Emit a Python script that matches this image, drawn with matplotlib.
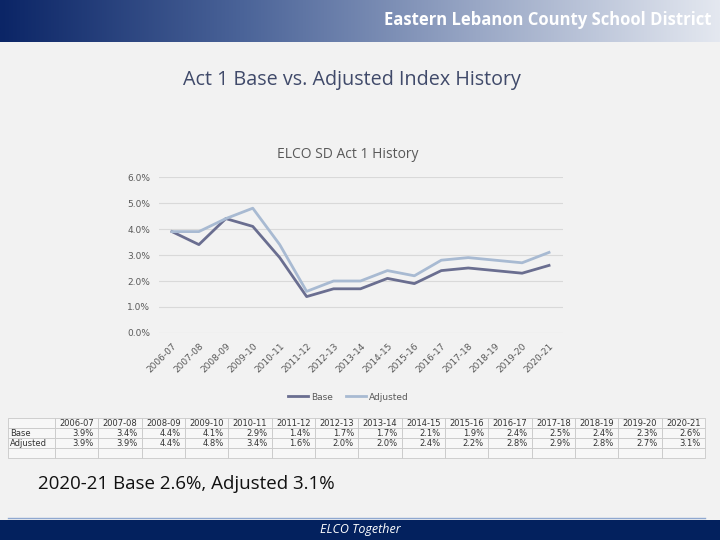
import matplotlib.pyplot as plt
import numpy as np
from matplotlib.colors import LinearSegmentedColormap

# Data
years = ['2006-07', '2007-08', '2008-09', '2009-10', '2010-11', '2011-12', '2012-13',
         '2013-14', '2014-15', '2015-16', '2016-17', '2017-18', '2018-19', '2019-20', '2020-21']
base = [3.9, 3.4, 4.4, 4.1, 2.9, 1.4, 1.7, 1.7, 2.1, 1.9, 2.4, 2.5, 2.4, 2.3, 2.6]
adjusted = [3.9, 3.9, 4.4, 4.8, 3.4, 1.6, 2.0, 2.0, 2.4, 2.2, 2.8, 2.9, 2.8, 2.7, 3.1]

W, H = 720, 540
bg = '#f2f2f2'
fig = plt.figure(figsize=(7.2, 5.4), dpi=100)
fig.patch.set_facecolor(bg)

def fx(px):
    return px / W

def fy(py):
    return 1 - py / H

# Header gradient bar
hax = fig.add_axes([0, fy(42), 1, 42 / H])
cmap = LinearSegmentedColormap.from_list('hdr', ['#0b2566', '#4a6398', '#9aa8c6', '#e4e8f0'])
hax.imshow(np.linspace(0, 1, 256)[None, :], aspect='auto', cmap=cmap, extent=[0, 1, 0, 1])
hax.axis('off')
fig.text(fx(712), fy(20), 'Eastern Lebanon County School District', ha='right', va='center',
         color='white', fontsize=12, fontweight='bold', family='Open Sans')

# Slide title
fig.text(fx(352), fy(80), 'Act 1 Base vs. Adjusted Index History', ha='center', va='center',
         color='#404a6a', fontsize=14.2, family='Open Sans')

# Chart
ax = fig.add_axes([fx(158.5), fy(333), fx(404), 156 / H])
ax.set_facecolor(bg)
x = np.arange(len(years))
l1, = ax.plot(x, base, color='#6a6e90', linewidth=2, label='Base')
l2, = ax.plot(x, adjusted, color='#a8bad2', linewidth=2, label='Adjusted')
ax.set_xlim(-0.5, len(years) - 0.5)
ax.set_ylim(0, 6)
ax.set_yticks(np.arange(0, 7, 1))
ax.set_yticklabels([f'{v:.1f}%' for v in range(7)])
ax.set_xticks(x)
ax.set_xticklabels(years, rotation=45, ha='right', rotation_mode='anchor')
ax.grid(axis='y', color='#d9d9d9', linewidth=0.8)
ax.set_axisbelow(True)
for s in ax.spines.values():
    s.set_visible(False)
ax.tick_params(length=0, labelsize=6.5, colors='#595959', pad=6)
fig.text(fx(348), fy(155), 'ELCO SD Act 1 History', ha='center', va='center',
         fontsize=10, color='#595959', family='Open Sans')
ax.legend(handles=[l1, l2], loc='upper center', bbox_to_anchor=(0.47, -0.33), ncol=2,
          frameon=False, fontsize=6.5, handlelength=2.2, columnspacing=1.5, handletextpad=0.3,
          labelcolor='#595959')

# Table
tax = fig.add_axes([fx(8), fy(458), fx(697), 40 / H])
tax.axis('off')
cell_text = [['Base'] + [f'{v:.1f}%' for v in base],
             ['Adjusted'] + [f'{v:.1f}%' for v in adjusted],
             [''] * (len(years) + 1)]
label_w = 47 / 697
data_w = (1 - label_w) / len(years)
tbl = tax.table(cellText=cell_text, colLabels=[''] + years, cellLoc='right',
                colWidths=[label_w] + [data_w] * len(years), bbox=[0, 0, 1, 1])
tbl.auto_set_font_size(False)
tbl.set_fontsize(6)
for (r, c), cell in tbl.get_celld().items():
    cell.set_edgecolor('#c8c8c8')
    cell.set_linewidth(0.6)
    cell.set_facecolor('#f7f7f7')
    cell.get_text().set_color('#333333')
    if r == 0:
        cell.get_text().set_ha('center')
    if c == 0:
        cell.get_text().set_ha('left')
        cell.PAD = 0.05

# Summary text
fig.text(fx(38), fy(484), '2020-21 Base 2.6%, Adjusted 3.1%', ha='left', va='center',
         color='#111111', fontsize=13.5, family='Open Sans')

# Footer
fig.add_artist(plt.Line2D([fx(8), fx(705)], [fy(518), fy(518)], color='#8fa8d0', linewidth=1))
fax = fig.add_axes([0, 0, 1, 20 / H])
fax.set_facecolor('#03215e')
fax.set_xticks([])
fax.set_yticks([])
for s in fax.spines.values():
    s.set_visible(False)
fig.text(0.5, fy(530), 'ELCO Together', ha='center', va='center', color='white',
         fontsize=9, style='italic', family='Open Sans')

fig.savefig('out.png', dpi=100, facecolor=bg)
